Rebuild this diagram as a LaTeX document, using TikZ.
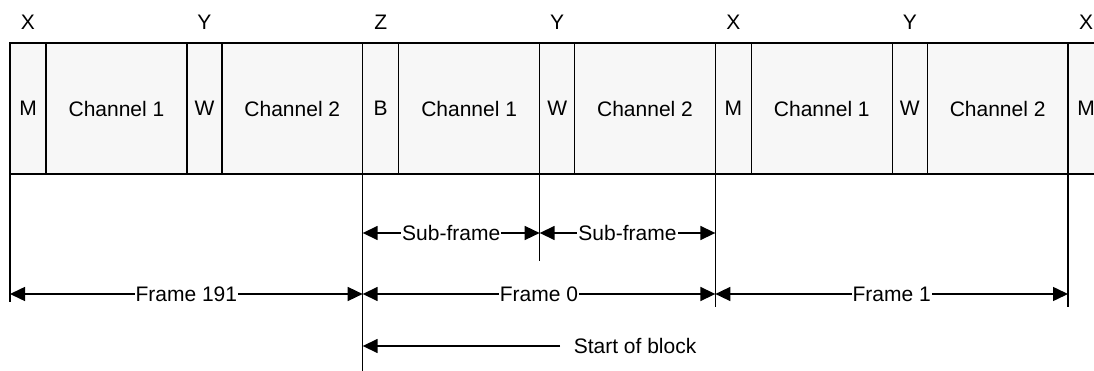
\documentclass[tikz,border=0pt]{standalone}
\usepackage{fontspec}
\setmainfont{Liberation Sans}
\usetikzlibrary{arrows.meta}
\tikzset{cell/.style={draw, fill=gray!6, minimum height=131pt, inner sep=0pt, outer sep=0pt, anchor=west},
	lbl/.style={fill=white, inner sep=1pt}}
\begin{document}
\begin{tikzpicture}[x=1pt, y=-1pt, >={Triangle[length=15pt,width=14pt]}, line width=1.5pt, font=\fontsize{21}{25}\selectfont]
				\clip (0,0) rectangle (1094,371);
				\useasboundingbox (0,0) rectangle (1094,371);
				\foreach \x/\lead/\mark [count=\i] in {10/M/X, 362.67/B/Z, 715.33/M/X}{
					\node[cell, minimum width=36pt] (lead\i) at (\x,108.5) {\lead};
					\node[cell, minimum width=141pt] (chA\i) at (lead\i.east) {Channel 1};
					\node[cell, minimum width=35pt] (gap\i) at (chA\i.east) {W};
					\node[cell, minimum width=140.67pt] (chB\i) at (gap\i.east) {Channel 2};
					\node (mk\i) at ([yshift=20.5pt]lead\i.north) {\mark};
					\node (my\i) at ([yshift=20.5pt]gap\i.north) {Y};
				}
				\node[cell, minimum width=36pt] (lead4) at (chB3.east) {M};
				\node (mk4) at ([yshift=20.5pt]lead4.north) {X};
				\coordinate (sub) at (0,233); \coordinate (frm) at (0,294); \coordinate (blk) at (0,346);
				\draw (lead1.south west)--++(0,128) (lead2.south west)--++(0,197) (gap2.south west)--++(0,87);
				\draw (lead3.south west)--++(0,133) (lead4.south west)--++(0,133);
				\draw [<->] (lead2.south west |- sub)--node[lbl] (sf1) {Sub-frame} (gap2.south west |- sub);
				\draw [<->] (gap2.south west |- sub)--node[lbl] (sf2) {Sub-frame} (lead3.south west |- sub);
				\draw [<->] (lead1.south west |- frm)--node[lbl] (fr191) {Frame 191} (lead2.south west |- frm);
				\draw [<->] (lead2.south west |- frm)--node[lbl] (fr0) {Frame 0} (lead3.south west |- frm);
				\draw [<->] (lead3.south west |- frm)--node[lbl] (fr1) {Frame 1} (lead4.south west |- frm);
				\node[anchor=west, inner xsep=13pt, inner ysep=0pt] (sob) at (560,346) {Start of block};
				\draw [->] (sob.west)--(lead2.south west |- blk);
			\end{tikzpicture}
\end{document}
